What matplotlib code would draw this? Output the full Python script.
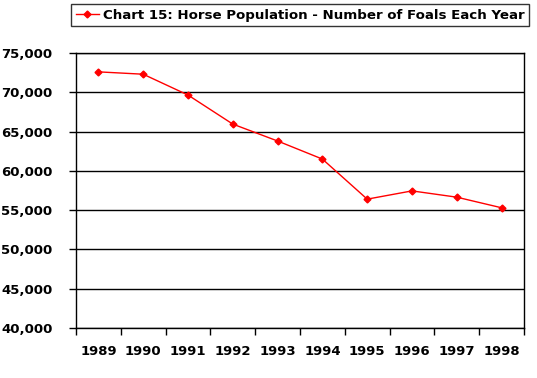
import matplotlib
matplotlib.use('Agg')
import matplotlib.pyplot as plt
from matplotlib.ticker import FuncFormatter

years = ['1989', '1990', '1991', '1992', '1993', '1994', '1995', '1996', '1997', '1998']
foals = [72600, 72300, 69650, 65950, 63800, 61500, 56400, 57450, 56650, 55300]

fig = plt.figure(figsize=(5.37, 3.78), dpi=100)
ax = fig.add_axes([76/537, 1-328/378, (524-76)/537, (328-53)/378])

ax.plot(range(len(years)), foals, color='red', lw=1, marker='D', ms=3.5,
        label='Chart 15: Horse Population - Number of Foals Each Year')

ax.set_xlim(-0.5, len(years) - 0.5)
ax.set_ylim(40000, 75000)
ax.set_yticks(range(40000, 75001, 5000))
ax.yaxis.set_major_formatter(FuncFormatter(lambda v, p: f'{int(v):,}'))
ax.set_xticks([i - 0.5 for i in range(len(years) + 1)], minor=False)
ax.set_xticklabels([])
ax.set_xticks(range(len(years)), minor=True)
ax.set_xticklabels(years, minor=True)
ax.tick_params(axis='x', which='minor', length=0, pad=12)
ax.tick_params(axis='x', which='major', length=5, width=1, direction='out')
ax.tick_params(axis='y', length=5, width=1, direction='out', pad=12)
for lab in ax.get_yticklabels() + ax.get_xticklabels(minor=True):
    lab.set_fontweight('bold')
    lab.set_fontsize(9.5)
ax.grid(axis='y', color='black', lw=1)
ax.set_axisbelow(True)
for s in ax.spines.values():
    s.set_color('black')
    s.set_linewidth(1)

leg = fig.legend(loc='upper center', bbox_to_anchor=(300/537, 1 - 4/378),
                 frameon=True, fancybox=False, edgecolor='black', handlelength=1.7,
                 prop={'weight': 'bold', 'size': 9.6}, borderpad=0.35, handletextpad=0.3,
                 borderaxespad=0)
leg.get_frame().set_linewidth(1)

fig.savefig('out.png', dpi=100)
